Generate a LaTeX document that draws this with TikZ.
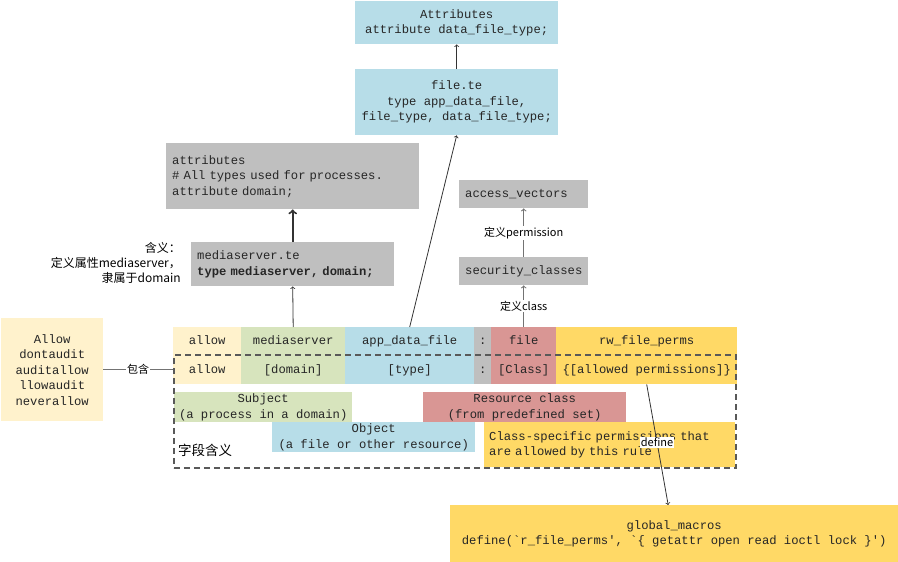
\documentclass[tikz,border=0pt]{standalone}
\usepackage{fontspec}
\setmonofont{Liberation Mono}
\newfontfamily\cjk{Noto Sans CJK SC}
\definecolor{cyellow}{HTML}{FFF2CC}
\definecolor{cgreen}{HTML}{D7E4BD}
\definecolor{cblue}{HTML}{B7DDE8}
\definecolor{cgray}{HTML}{BFBFBF}
\definecolor{cred}{HTML}{D99694}
\definecolor{cgold}{HTML}{FFD966}
\definecolor{cline}{HTML}{595959}

\begin{document}
\begin{tikzpicture}[x=1pt, y=-1pt,
    cell/.style={anchor=north west, inner sep=0pt, align=center, text=black!85,
        font=\ttfamily\fontsize{12.2}{15.5}\selectfont},
    oneline/.style={text height=9pt, text depth=3pt},
    rowcell/.style={cell, oneline},
    lcell/.style={cell, align=left, inner xsep=6pt},
    note/.style={font=\cjk\fontsize{11}{14}\selectfont, inner sep=1pt},
    arr/.style={->, draw=black!80, line width=0.8pt},
    garr/.style={->, draw=black!55, line width=1pt}]
    \useasboundingbox (0,0) rectangle (898,562);

    % definition files
    \node[cell, fill=cblue, minimum width=203, minimum height=43] (attr) at (355,1)
        {Attributes\\attribute data\_file\_type;};
    \node[cell, fill=cblue, minimum width=203, minimum height=66] (filete) at (355,69)
        {file.te\\type app\_data\_file,\\file\_type, data\_file\_type;};
    \node[lcell, fill=cgray, text width=241, minimum height=66] (attrs) at (166,143)
        {attributes\\\# All types used for processes.\\attribute domain;};
    \node[lcell, fill=cgray, text width=191, minimum height=44] (msdte) at (191,242)
        {mediaserver.te\\\bfseries type mediaserver, domain;};
    \node[lcell, oneline, fill=cgray, text width=117, minimum height=28] (avec) at (459,180) {access\_vectors};
    \node[lcell, oneline, fill=cgray, text width=117, minimum height=28] (secl) at (459,257) {security\_classes};
    \node[note, anchor=east, align=right, font=\cjk\fontsize{12}{15}\selectfont] (meaning) at (182,263)
        {含义：\\定义属性mediaserver，\\隶属于domain};

    % the rule
    \node[rowcell, fill=cyellow, minimum width=68, minimum height=29] (allow) at (173,327) {allow};
    \node[rowcell, fill=cgreen, minimum width=104, minimum height=29] (ms) at (241,327) {mediaserver};
    \node[rowcell, fill=cblue, minimum width=129, minimum height=29] (adf) at (345,327) {app\_data\_file};
    \node[rowcell, fill=cgray, minimum width=17, minimum height=29] (colon) at (474,327) {:};
    \node[rowcell, fill=cred, minimum width=65, minimum height=29] (file) at (491,327) {file};
    \node[rowcell, fill=cgold, minimum width=181, minimum height=29] (perms) at (556,327) {rw\_file\_perms};

    % field meaning
    \node[rowcell, fill=cyellow, minimum width=68, minimum height=28] (allowf) at (173,356) {allow};
    \node[rowcell, fill=cgreen, minimum width=104, minimum height=28] (domf) at (241,356) {[domain]};
    \node[rowcell, fill=cblue, minimum width=129, minimum height=28] (typef) at (345,356) {[type]};
    \node[rowcell, fill=cgray, minimum width=17, minimum height=28] (colonf) at (474,356) {:};
    \node[rowcell, fill=cred, minimum width=65, minimum height=28] (classf) at (491,356) {[Class]};
    \node[rowcell, fill=cgold, minimum width=181, minimum height=28] (permsf) at (556,356) {\{[allowed permissions]\}};
    \node[cell, fill=cgreen, minimum width=178, minimum height=30] (subj) at (174,392)
        {Subject\\(a process in a domain)};
    \node[cell, fill=cred, minimum width=203, minimum height=30] (res) at (423,392)
        {Resource class\\(from predefined set)};
    \node[cell, fill=cblue, minimum width=203, minimum height=30] (obj) at (272,422)
        {Object\\(a file or other resource)};
    \node[lcell, fill=cgold, inner xsep=5pt, text width=241, minimum height=45] (clsperm) at (484,422)
        {Class-specific permissions that\\are allowed by this rule};
    \node[note, anchor=north west, font=\cjk\fontsize{13.5}{15}\selectfont] (fieldlbl) at (177,443) {字段含义};
    \node[anchor=north west, inner sep=0pt, minimum width=562, minimum height=113,
        draw=cline, line width=1.5pt, dash pattern=on 6pt off 4pt] (fields) at (173,354) {};

    \node[cell, fill=cyellow, minimum width=102, minimum height=103] (kinds) at (1,318)
        {Allow\\dontaudit\\auditallow\\llowaudit\\neverallow};
    \node[cell, fill=cgold, minimum width=448, minimum height=57] (macros) at (450,505)
        {global\_macros\\define(`r\_file\_perms', `\{ getattr open read ioctl lock \}')};

    % connectors
    \draw[arr] (filete) -- (attr);
    \draw[arr] (adf.north) -- (filete.south);
    \draw[->, draw=black!80, line width=2pt] (msdte) -- (attrs);
    \draw[arr] (ms.north) -- (msdte.south);
    \draw[garr] (secl) -- (avec) node[midway, note, fill=white] {定义permission};
    \draw[garr] (file.north) -- (secl.south) node[midway, note, fill=white] {定义class};
    \draw[draw=black!55, line width=1.5pt] (kinds.east) -- (kinds.east -| fields.west)
        node[midway, note, fill=white] {包含};
    \draw[arr] (permsf.south) -- ([xshift=-6pt]macros.north)
        node[pos=0.48, note, fill=white] {define};
\end{tikzpicture}
\end{document}
